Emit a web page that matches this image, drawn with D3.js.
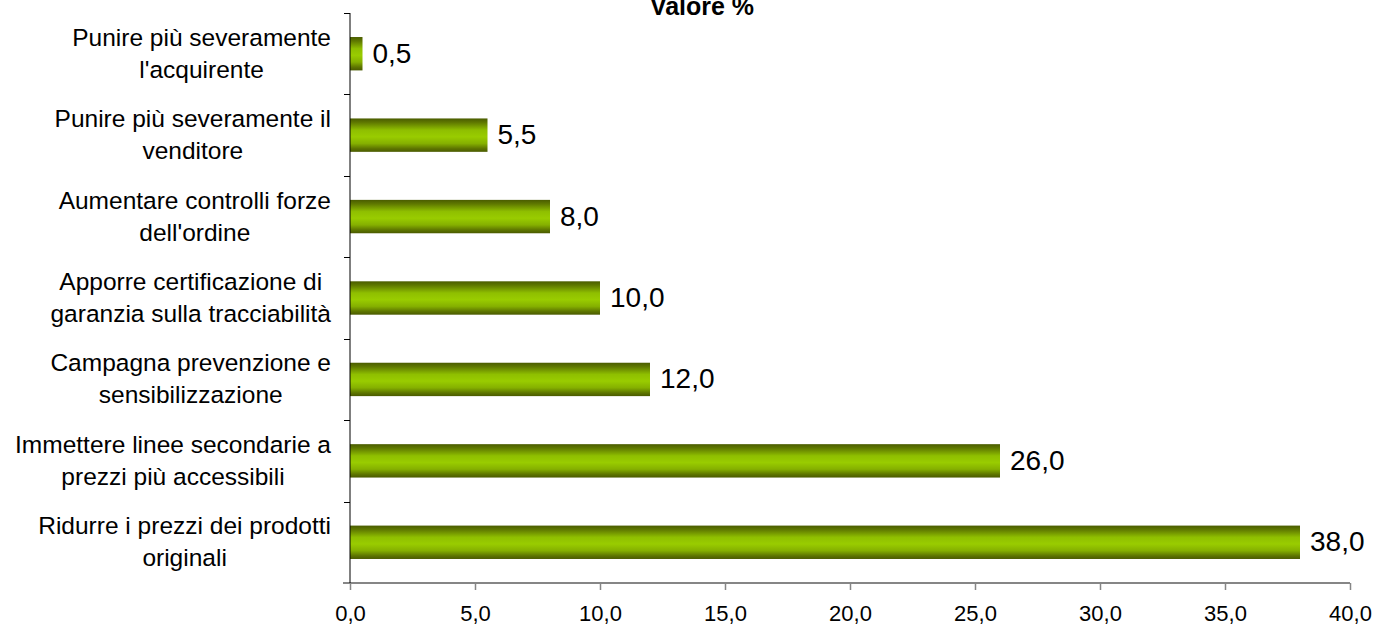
<!DOCTYPE html>
<html>
<head>
<meta charset="utf-8">
<script src="https://cdn.jsdelivr.net/npm/d3@7"></script>
<style>
  html, body { margin: 0; padding: 0; background: #fff; }
  svg { display: block; font-family: "Liberation Sans", Arial, sans-serif; }
</style>
</head>
<body>
<svg id="chart" width="1375" height="624"></svg>
<script>
// Categories, top to bottom; each label split into its two lines
const categories = [
  "Punire più severamente|l'acquirente",
  "Punire più severamente il|venditore",
  "Aumentare controlli forze|dell'ordine",
  "Apporre certificazione di|garanzia sulla tracciabilità",
  "Campagna prevenzione e|sensibilizzazione",
  "Immettere linee secondarie a|prezzi più accessibili",
  "Ridurre i prezzi dei prodotti|originali"
];
const values = [0.5, 5.5, 8.0, 10.0, 12.0, 26.0, 38.0];
const xTicks = [0, 5, 10, 15, 20, 25, 30, 35, 40];
const chartTitle = "Valore %";

(function draw() {
  const svg = d3.select("#chart");
  const plotLeft = 350, plotRight = 1350, plotTop = 13, plotBottom = 583;

  const x = d3.scaleLinear().domain([0, 40]).range([plotLeft, plotRight]);
  const y = d3.scaleBand().domain(categories).range([plotTop, plotBottom])
    .paddingInner(0.59).paddingOuter(0.295);
  const step = y.step();
  const fmt = v => d3.format(".1f")(v).replace(".", ",");

  // Bar gradient: dark olive edges, bright lime centre
  const defs = svg.append("defs");
  const grad = defs.append("linearGradient").attr("id", "barGrad")
    .attr("x1", 0).attr("y1", 0).attr("x2", 0).attr("y2", 1);
  [[0, "#4a5c00"], [0.12, "#5f7800"], [0.35, "#8fbf00"], [0.55, "#99cc00"],
   [0.75, "#85b000"], [0.9, "#5e7600"], [1, "#4a5a00"]]
    .forEach(([o, c]) => grad.append("stop").attr("offset", o).attr("stop-color", c));

  // Title
  svg.append("text").attr("x", 702).attr("y", 15).attr("text-anchor", "middle")
    .attr("font-size", 25).attr("font-weight", "bold").attr("fill", "#000")
    .text(chartTitle);

  // Bars
  svg.append("g").selectAll("rect").data(values).join("rect")
    .attr("x", x(0))
    .attr("y", (d, i) => y(categories[i]))
    .attr("width", d => x(d) - x(0))
    .attr("height", y.bandwidth())
    .attr("fill", "url(#barGrad)");

  // Value labels
  svg.append("g").selectAll("text").data(values).join("text")
    .attr("x", d => x(d) + 10)
    .attr("y", (d, i) => y(categories[i]) + y.bandwidth() / 2 + 9)
    .attr("font-size", 28).attr("fill", "#000")
    .text(d => fmt(d));

  // Bottom axis (grey)
  const xAxis = svg.append("g").attr("transform", `translate(0,${plotBottom})`)
    .call(d3.axisBottom(x).tickValues(xTicks).tickFormat(fmt).tickSize(7).tickPadding(0));
  xAxis.select(".domain").remove();
  xAxis.append("line").attr("x1", plotLeft - 7).attr("x2", plotRight)
    .attr("stroke", "#868686").attr("stroke-width", 2);
  xAxis.selectAll(".tick line").attr("stroke", "#868686").attr("stroke-width", 1.5);
  xAxis.selectAll(".tick text").attr("font-size", 22).attr("fill", "#000")
    .attr("dy", null).attr("y", 38);

  // Left axis (black) with separators between categories
  const yAxisG = svg.append("g");
  yAxisG.append("line").attr("x1", plotLeft).attr("x2", plotLeft)
    .attr("y1", plotTop).attr("y2", plotBottom)
    .attr("stroke", "#000").attr("stroke-width", 1);
  yAxisG.selectAll("line.sep").data(d3.range(categories.length)).join("line")
    .attr("class", "sep")
    .attr("x1", plotLeft - 6).attr("x2", plotLeft)
    .attr("y1", i => Math.round(plotTop + i * step) + 0.5)
    .attr("y2", i => Math.round(plotTop + i * step) + 0.5)
    .attr("stroke", "#000");

  // Category labels: two centred lines, block right-aligned to the axis
  const labelRight = 331;
  const labels = svg.append("g").selectAll("g").data(categories).join("g");
  labels.each(function (c) {
    const g = d3.select(this);
    const cy = y(c) + y.bandwidth() / 2;
    const lines = c.split("|");
    const texts = lines.map((t, k) => g.append("text")
      .attr("y", cy + (k === 0 ? -8 : 24))
      .attr("font-size", 24.5).attr("fill", "#000").attr("text-anchor", "middle")
      .text(t));
    const w = d3.max(texts, t => t.node().getComputedTextLength());
    texts.forEach(t => t.attr("x", labelRight - w / 2));
  });
})();
</script>
</body>
</html>
